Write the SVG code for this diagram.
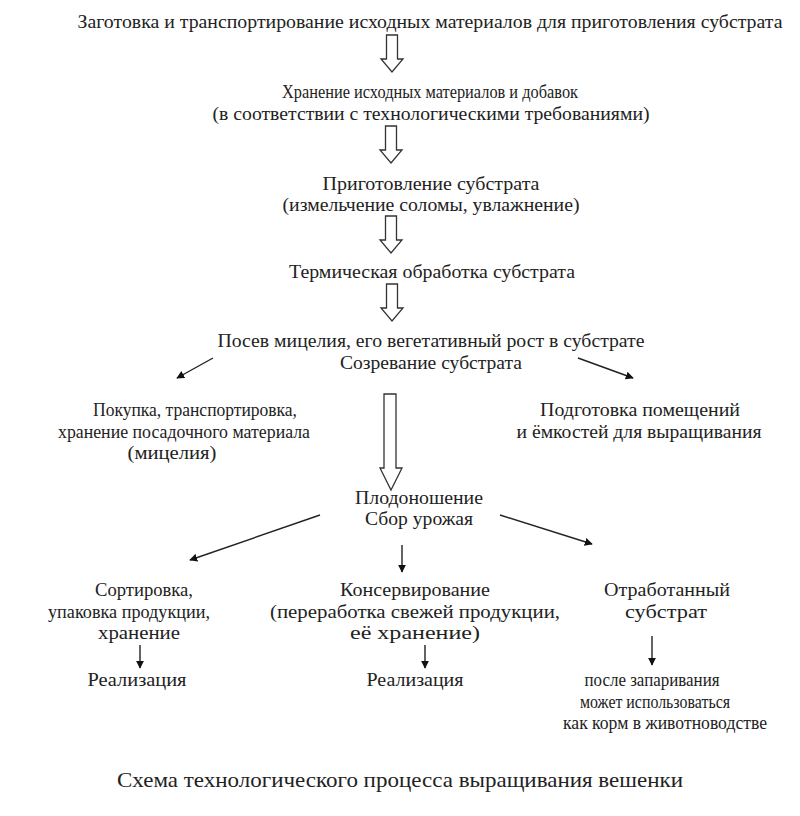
<svg xmlns="http://www.w3.org/2000/svg" width="800" height="816" viewBox="0 0 800 816">
<defs>
<style>
text{font-family:"Liberation Serif","Times New Roman",serif;font-size:19.5px;fill:#222;text-anchor:middle}
.cap{font-size:22px}
.hollow{fill:#fff;stroke:#333;stroke-width:1.3}
.line{stroke:#222;stroke-width:1.4;fill:none}
</style>
<marker id="ah" viewBox="0 0 10 10" refX="9" refY="5" markerWidth="8" markerHeight="8" orient="auto" markerUnits="userSpaceOnUse">
<path d="M0,0 L10,5 L0,10 z" fill="#111"/>
</marker>
<path id="ha" d="M-5.5,0 H5.5 V24 H11 L0,37 L-11,24 H-5.5 Z"/>
</defs>
<rect width="800" height="816" fill="#fff"/>

<g id="n1"><text x="430" y="28" textLength="705" lengthAdjust="spacingAndGlyphs">Заготовка и транспортирование исходных материалов для приготовления субстрата</text></g>
<g id="n2"><text x="430" y="98" textLength="296" lengthAdjust="spacingAndGlyphs">Хранение исходных материалов и добавок</text>
<text x="431" y="120" textLength="437" lengthAdjust="spacingAndGlyphs">(в соответствии с технологическими требованиями)</text></g>
<g id="n3"><text x="431" y="190" textLength="217" lengthAdjust="spacingAndGlyphs">Приготовление субстрата</text>
<text x="431" y="211" textLength="297" lengthAdjust="spacingAndGlyphs">(измельчение соломы, увлажнение)</text></g>
<g id="n4"><text x="432" y="278" textLength="286" lengthAdjust="spacingAndGlyphs">Термическая обработка субстрата</text></g>
<g id="n5"><text x="431" y="347" textLength="427" lengthAdjust="spacingAndGlyphs">Посев мицелия, его вегетативный рост в субстрате</text>
<text x="431" y="369" textLength="182" lengthAdjust="spacingAndGlyphs">Созревание субстрата</text></g>
<g id="n6"><text x="195" y="416" textLength="204" lengthAdjust="spacingAndGlyphs">Покупка, транспортировка,</text>
<text x="184" y="438" textLength="252" lengthAdjust="spacingAndGlyphs">хранение посадочного материала</text>
<text x="172" y="459" textLength="89" lengthAdjust="spacingAndGlyphs">(мицелия)</text></g>
<g id="n7"><text x="640" y="416" textLength="200" lengthAdjust="spacingAndGlyphs">Подготовка помещений</text>
<text x="639" y="438" textLength="245" lengthAdjust="spacingAndGlyphs">и ёмкостей для выращивания</text></g>
<g id="n8"><text x="419" y="504" textLength="128" lengthAdjust="spacingAndGlyphs">Плодоношение</text>
<text x="419" y="525" textLength="108" lengthAdjust="spacingAndGlyphs">Сбор урожая</text></g>
<g id="n9"><text x="144" y="596" textLength="98" lengthAdjust="spacingAndGlyphs">Сортировка,</text>
<text x="129" y="618" textLength="162" lengthAdjust="spacingAndGlyphs">упаковка продукции,</text>
<text x="139" y="639" textLength="82" lengthAdjust="spacingAndGlyphs">хранение</text></g>
<g id="n10"><text x="137" y="686" textLength="99" lengthAdjust="spacingAndGlyphs">Реализация</text></g>
<g id="n11"><text x="415" y="596" textLength="150" lengthAdjust="spacingAndGlyphs">Консервирование</text>
<text x="415" y="618" textLength="290" lengthAdjust="spacingAndGlyphs">(переработка свежей продукции,</text>
<text x="415" y="639" textLength="130" lengthAdjust="spacingAndGlyphs">её хранение)</text></g>
<g id="n12"><text x="415" y="686" textLength="97" lengthAdjust="spacingAndGlyphs">Реализация</text></g>
<g id="n13"><text x="667" y="596" textLength="126" lengthAdjust="spacingAndGlyphs">Отработанный</text>
<text x="666" y="618" textLength="82" lengthAdjust="spacingAndGlyphs">субстрат</text></g>
<g id="n14"><text x="652" y="686" textLength="135" lengthAdjust="spacingAndGlyphs">после запаривания</text>
<text x="655" y="708" textLength="150" lengthAdjust="spacingAndGlyphs">может использоваться</text>
<text x="665" y="729" textLength="204" lengthAdjust="spacingAndGlyphs">как корм в животноводстве</text></g>
<g id="caption"><text class="cap" x="400" y="787" textLength="566" lengthAdjust="spacingAndGlyphs">Схема технологического процесса выращивания вешенки</text></g>

<g id="connectors">
<use href="#ha" class="hollow" transform="translate(392,35)"/>
<use href="#ha" class="hollow" transform="translate(391,126)"/>
<use href="#ha" class="hollow" transform="translate(391,216)"/>
<use href="#ha" class="hollow" transform="translate(392,284)"/>
<path class="hollow" d="M384,394 H396 V468 H402 L391,490 L380,468 H384 Z"/>
<line class="line" x1="213" y1="358" x2="177" y2="378" marker-end="url(#ah)"/>
<line class="line" x1="578" y1="358" x2="633" y2="378" marker-end="url(#ah)"/>
<line class="line" x1="320" y1="515" x2="190" y2="560" marker-end="url(#ah)"/>
<line class="line" x1="402" y1="545" x2="402" y2="572" marker-end="url(#ah)"/>
<line class="line" x1="500" y1="515" x2="592" y2="544" marker-end="url(#ah)"/>
<line class="line" x1="140" y1="645" x2="140" y2="668" marker-end="url(#ah)"/>
<line class="line" x1="425" y1="645" x2="425" y2="668" marker-end="url(#ah)"/>
<line class="line" x1="652" y1="636" x2="652" y2="665" marker-end="url(#ah)"/>
</g>
</svg>
